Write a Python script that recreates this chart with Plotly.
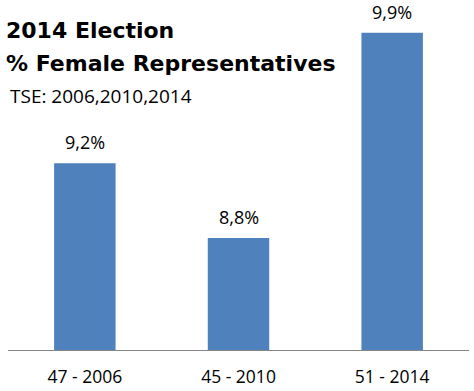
import plotly.graph_objects as go

categories = ["47 - 2006", "45 - 2010", "51 - 2014"]
values = [9.2, 8.8, 9.9]
labels = ["9,2%", "8,8%", "9,9%"]

title_lines = ["2014 Election", "% Female Representatives"]
subtitle = "TSE: 2006,2010,2014"

BAR = "#4F81BD"
FONT = "Open Sans"

fig = go.Figure()
fig.add_trace(go.Bar(x=categories, y=values, width=0.4, marker=dict(color=BAR, line=dict(width=0)),
                     hoverinfo="skip"))

for c, v, t in zip(categories, values, labels):
    fig.add_annotation(x=c, y=v, text=t, showarrow=False, yanchor="bottom", yshift=7,
                       font=dict(family=FONT, size=18, color="#000000"))

fig.add_annotation(xref="paper", yref="paper", x=-0.008, y=0.952, xanchor="left", yanchor="middle",
                   text="<b>" + title_lines[0] + "</b>", showarrow=False,
                   font=dict(family="DejaVu Sans", size=22, color="#000000"))
fig.add_annotation(xref="paper", yref="paper", x=-0.008, y=0.853, xanchor="left", yanchor="middle",
                   text="<b>" + title_lines[1] + "</b>", showarrow=False,
                   font=dict(family="DejaVu Sans", size=22, color="#000000"))
fig.add_annotation(xref="paper", yref="paper", x=0.0, y=0.757, xanchor="left", yanchor="middle",
                   text=subtitle, showarrow=False,
                   font=dict(family=FONT, size=19, color="#000000"))

fig.update_layout(
    width=474, height=391,
    margin=dict(l=8, r=5, t=14, b=41),
    paper_bgcolor="#ffffff", plot_bgcolor="#ffffff",
    showlegend=False,
    bargap=0.6,
    font=dict(family=FONT, size=18, color="#000000"),
)
fig.update_xaxes(showline=True, linecolor="#868686", linewidth=1, ticks="", showgrid=False,
                 ticklabelstandoff=11, automargin=False,
                 tickfont=dict(family=FONT, size=17.5, color="#000000"), fixedrange=True)
fig.update_yaxes(range=[8.2, 10.0], visible=False, showgrid=False, zeroline=False, fixedrange=True)

fig.write_html("out.html", config={"displayModeBar": False},
               post_script="document.body.style.margin='0';document.body.style.overflow='hidden';")
